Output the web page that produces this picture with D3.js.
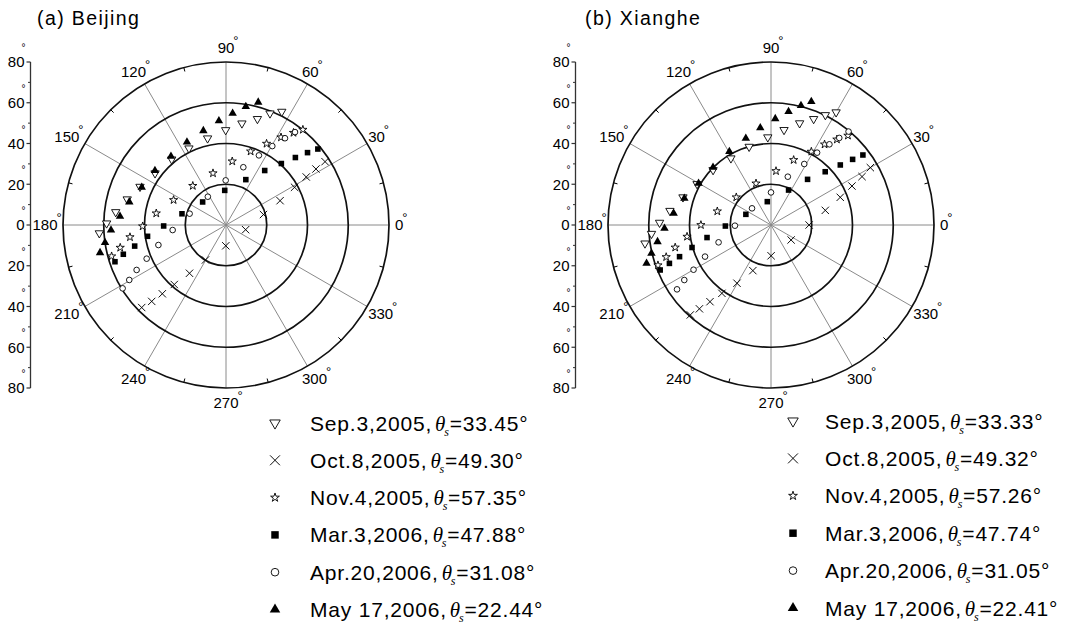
<!DOCTYPE html>
<html>
<head>
<meta charset="utf-8">
<script src="https://cdn.jsdelivr.net/npm/d3@7"></script>
<style>
  body { margin: 0; background: #fff; }
  svg { display: block; }
  text { font-family: "Liberation Sans", Arial, sans-serif; fill: #000; }
</style>
</head>
<body>
<svg id="chart" width="1070" height="625"></svg>
<script>
// ---- data: [azimuth (deg), zenith (deg)] ----
const seriesNames = ["Sep", "Oct", "Nov", "Mar", "Apr", "May"];
const legendDates = ["Sep.3,2005,", "Oct.8,2005,", "Nov.4,2005,", "Mar.3,2006,", "Apr.20,2006,", "May 17,2006,"];

const beijingZenith = ["33.45", "49.30", "57.35", "47.88", "31.08", "22.44"];
const xiangheZenith = ["33.33", "49.32", "57.26", "47.74", "31.05", "22.41"];

const beijingSep = [[63.8,62.0],[68.5,58.9],[73.5,54.3],[81.1,50.5],[90.2,46.6],[102,43.5],[115.8,41.8],[129.6,41.8],[143.9,43.1],[156,46.2],[165.4,50.1],[173.3,54.5],[179.2,58.6],[183.7,62.3]];
const beijingOct = [[32.6,57.7],[31.9,52.0],[30.9,45.9],[28.8,38.4],[24.2,29.1],[15.6,19.1],[346.6,9.9],[269.4,10.2],[239.6,19.9],[232.9,29.7],[229,38.7],[227.2,46.0],[225.8,52.3],[224.4,57.9]];
const beijingNov = [[51.1,60.1],[53.8,56.1],[57.9,50.8],[63.5,44.6],[71.5,38.1],[84.4,31.4],[104.1,26.2],[130.3,25.2],[154.5,28.5],[170.5,34.7],[180.9,40.9],[187.2,47.5],[192.1,53.1],[195.3,58.2]];
const beijingMar = [[39.6,58.5],[41.6,53.5],[44.2,47.5],[48.0,40.6],[54.6,32.8],[66.4,24.3],[92.1,17.0],[135.4,16.1],[165.7,22.3],[180.9,30.6],[188.2,38.9],[193,46.0],[195.9,52.4],[198.3,57.4]];
const beijingApr = [[53.4,56.8],[55.8,51.5],[59.6,44.9],[64.7,37.8],[73.3,29.6],[90.4,21.9],[122.7,16.5],[162.7,18.7],[185.4,26.3],[196.5,34.6],[203,42.3],[206.7,49.1],[209.6,54.6],[211.5,59.5]];
const beijingMay = [[75.3,62.3],[80.5,58.9],[86.6,54.9],[93.9,51.2],[103.5,47.6],[115.2,45.0],[128.7,43.2],[142.6,43.9],[155.9,45.3],[166.6,48.8],[175.3,52.2],[182.5,56.5],[188.3,60.0],[192.4,63.3]];

const xiangheSep = [[60.0,63.9],[63.7,60.2],[68.1,56.1],[74.3,51.9],[82.2,47.1],[92.1,43.1],[105.6,39.9],[121,38.2],[136.5,39.2],[151,41.5],[162.5,45.3],[172,50.1],[178.8,54.7],[184.2,58.8],[188.3,62.5]];
const xiangheOct = [[30,56.3],[28,50.6],[25.7,44.1],[21.8,36.6],[15.1,27.6],[0,18.7],[323.3,12.3],[270.2,15.1],[248.3,24.1],[239.7,33.1],[234.3,41.3],[231.5,48.1],[229.5,54.1],[228.1,59.3]];
const xiangheNov = [[49.3,57.9],[52.4,53.0],[56.4,47.5],[61.2,41.1],[70.8,33.8],[84.7,26.6],[109.8,21.7],[141.4,21.8],[165.7,27.2],[180,34.4],[187.9,41.6],[193.2,48.3],[197,53.8],[199.6,58.9]];
const xiangheMar = [[37.3,56.7],[38.8,51.4],[40.9,45.0],[44.5,37.3],[51.3,28.7],[63.3,19.2],[99,11.6],[157,13.4],[181.3,22.4],[191.1,32.0],[195.9,40.3],[199.1,47.5],[200.7,53.3],[202.1,58.7]];
const xiangheApr = [[50.3,59.6],[51.9,54.3],[54.1,48.9],[57.5,42.1],[61.4,34.1],[70.8,25.1],[90,16.0],[138.7,12.4],[181.1,17.7],[198.3,27.1],[205.6,35.9],[210,43.9],[212.4,50.4],[214.4,55.9]];
const xiangheMay = [[71.9,63.7],[75.9,60.4],[81.2,56.3],[87.7,52.2],[96.3,48.0],[106.2,44.3],[119.6,41.4],[135.2,40.1],[150.1,41.0],[162.9,44.5],[173.2,48.1],[181.8,52.3],[188.4,56.3],[193.3,60.3],[197.1,63.9]];

const radialTicks = [20, 40, 60, 80];
const angleTicks = d3.range(0, 360, 30);
const axisTicks = [-80, -60, -40, -20, 0, 20, 40, 60, 80];
const axisMinorTicks = [-70, -50, -30, -10, 10, 30, 50, 70];

// ---- layout ----
const svg = d3.select("#chart");
const R = 163;
const rScale = d3.scaleLinear().domain([0, 80]).range([0, R]);
const toRad = d => d * Math.PI / 180;

const symbolX = {
  draw(ctx, size) {
    const r = Math.sqrt(size) / 2;
    ctx.moveTo(-r, -r); ctx.lineTo(r, r);
    ctx.moveTo(r, -r); ctx.lineTo(-r, r);
  }
};

// marker styles per series (plot size, legend size)
const markers = {
  Sep: { type: d3.symbolTriangle, rot: 180, fill: "#fff", stroke: "#000", sw: 0.9, size: 30, lsize: 48 },
  Oct: { type: symbolX, rot: 0, fill: "none", stroke: "#000", sw: 0.95, size: 54, lsize: 98 },
  Nov: { type: d3.symbolStar, rot: 0, fill: "#fff", stroke: "#000", sw: 0.9, size: 21, lsize: 24 },
  Mar: { type: d3.symbolSquare, rot: 0, fill: "#000", stroke: "none", sw: 0, size: 31, lsize: 56 },
  Apr: { type: d3.symbolCircle, rot: 0, fill: "#fff", stroke: "#000", sw: 0.9, size: 25, lsize: 46 },
  May: { type: d3.symbolTriangle, rot: 0, fill: "#000", stroke: "none", sw: 0, size: 31, lsize: 48 }
};

const panels = [
  { title: "(a) Beijing", titleX: 37, cx: 226, cy: 225,
    series: [beijingSep, beijingOct, beijingNov, beijingMar, beijingApr, beijingMay],
    zenith: beijingZenith, legMarkX: 275, legTextX: 310, legY0: 423, legStep: 37.3 },
  { title: "(b) Xianghe", titleX: 585, cx: 771, cy: 225,
    series: [xiangheSep, xiangheOct, xiangheNov, xiangheMar, xiangheApr, xiangheMay],
    zenith: xiangheZenith, legMarkX: 793, legTextX: 825, legY0: 421, legStep: 37.4 }
];

function degreeMark(g, x, y, size) {
  // small superscript degree sign whose ring centre sits at (x, y)
  g.append("text")
    .attr("x", x - size * 0.2)
    .attr("y", y + size * 0.57)
    .attr("font-size", size)
    .attr("fill", "#222")
    .text("°");
}

function labelOffset(a) {
  const s = Math.abs(Math.sin(toRad(a))), c = Math.cos(toRad(a));
  let anchor, dx;
  if (Math.abs(c) < 0.01) { anchor = "middle"; dx = 0; }
  else if (c > 0) { anchor = "start"; dx = s > 0.8 ? -5.5 : (s > 0.4 ? 1 : 6); }
  else { anchor = "end"; dx = s > 0.8 ? 1.5 : -5.5; }
  return { anchor, dx, dy: -14.5 * Math.sin(toRad(a)) };
}

panels.forEach(p => {
  const g = svg.append("g");
  const pos = (az, zen) => [p.cx + rScale(zen) * Math.cos(toRad(az)), p.cy - rScale(zen) * Math.sin(toRad(az))];

  // title
  g.append("text")
    .attr("x", p.titleX).attr("y", 24.5)
    .attr("font-size", 19.5)
    .attr("letter-spacing", 1.4)
    .text(p.title);

  // spokes
  g.selectAll("line.spoke").data(angleTicks).join("line")
    .attr("class", "spoke")
    .attr("x1", p.cx).attr("y1", p.cy)
    .attr("x2", d => pos(d, 80)[0]).attr("y2", d => pos(d, 80)[1])
    .attr("stroke", "#8a8a8a").attr("stroke-width", 1);

  // rings
  g.selectAll("circle.ring").data(radialTicks).join("circle")
    .attr("class", "ring")
    .attr("cx", p.cx).attr("cy", p.cy)
    .attr("r", d => rScale(d))
    .attr("fill", "none").attr("stroke", "#111").attr("stroke-width", 1.7);

  // minor ticks on outer ring
  g.selectAll("line.otick").data(angleTicks.map(a => a + 15)).join("line")
    .attr("class", "otick")
    .attr("x1", d => pos(d, 80)[0]).attr("y1", d => pos(d, 80)[1])
    .attr("x2", d => pos(d, 78)[0]).attr("y2", d => pos(d, 78)[1])
    .attr("stroke", "#000").attr("stroke-width", 1);

  // angle labels
  angleTicks.forEach(a => {
    const [ex, ey] = pos(a, 80);
    const o = labelOffset(a);
    const t = g.append("text")
      .attr("x", ex + o.dx).attr("y", ey + o.dy)
      .attr("dy", "0.36em")
      .attr("text-anchor", o.anchor)
      .attr("font-size", 15)
      .text(a);
    const bb = t.node().getBBox();
    degreeMark(g, bb.x + bb.width + 1.5, ey + o.dy - 10, 13);
  });

  // vertical zenith axis on the left
  const axisX = p.cx - 195.5;
  const yAxis = d3.scaleLinear().domain([-80, 80]).range([p.cy + R, p.cy - R]);
  g.append("line")
    .attr("x1", axisX).attr("x2", axisX)
    .attr("y1", yAxis(80)).attr("y2", yAxis(-80))
    .attr("stroke", "#333").attr("stroke-width", 1.3);
  g.selectAll("line.major").data(axisTicks).join("line")
    .attr("class", "major")
    .attr("x1", axisX - 4).attr("x2", axisX)
    .attr("y1", d => yAxis(d)).attr("y2", d => yAxis(d))
    .attr("stroke", "#333").attr("stroke-width", 1.2);
  g.selectAll("line.minor").data(axisMinorTicks).join("line")
    .attr("class", "minor")
    .attr("x1", axisX - 2.5).attr("x2", axisX)
    .attr("y1", d => yAxis(d)).attr("y2", d => yAxis(d))
    .attr("stroke", "#333").attr("stroke-width", 1);
  axisTicks.forEach(v => {
    g.append("text")
      .attr("x", axisX - 6).attr("y", yAxis(v))
      .attr("dy", "0.36em")
      .attr("text-anchor", "end")
      .attr("font-size", 15)
      .text(Math.abs(v));
    degreeMark(g, axisX - 7, yAxis(v) - 16.5, 10);
  });

  // data markers
  p.series.forEach((data, i) => {
    const m = markers[seriesNames[i]];
    const sym = d3.symbol().type(m.type).size(m.size);
    g.append("g").selectAll("path").data(data).join("path")
      .attr("d", sym)
      .attr("transform", d => { const [x, y] = pos(d[0], d[1]); return `translate(${x},${y}) rotate(${m.rot})`; })
      .attr("fill", m.fill).attr("stroke", m.stroke).attr("stroke-width", m.sw);
  });

  // legend
  seriesNames.forEach((name, i) => {
    const m = markers[name];
    const y = p.legY0 + i * p.legStep;
    g.append("path")
      .attr("d", d3.symbol().type(m.type).size(m.lsize))
      .attr("transform", `translate(${p.legMarkX},${y}) rotate(${m.rot})`)
      .attr("fill", m.fill).attr("stroke", m.stroke).attr("stroke-width", m.sw);
    const t = g.append("text")
      .attr("x", p.legTextX).attr("y", y + 7.5)
      .attr("font-size", 21)
      .attr("letter-spacing", 0.8);
    t.append("tspan").text(legendDates[i]);
    t.append("tspan").attr("dx", 3)
      .attr("font-family", "'Liberation Serif', 'Times New Roman', serif")
      .attr("font-style", "italic").text("θ");
    t.append("tspan").attr("dx", -2).attr("dy", 5)
      .attr("font-family", "'Liberation Serif', 'Times New Roman', serif")
      .attr("font-style", "italic").attr("font-size", 12).text("s");
    t.append("tspan").attr("dy", -5).text("=" + p.zenith[i] + "°");
  });
});
</script>
</body>
</html>
